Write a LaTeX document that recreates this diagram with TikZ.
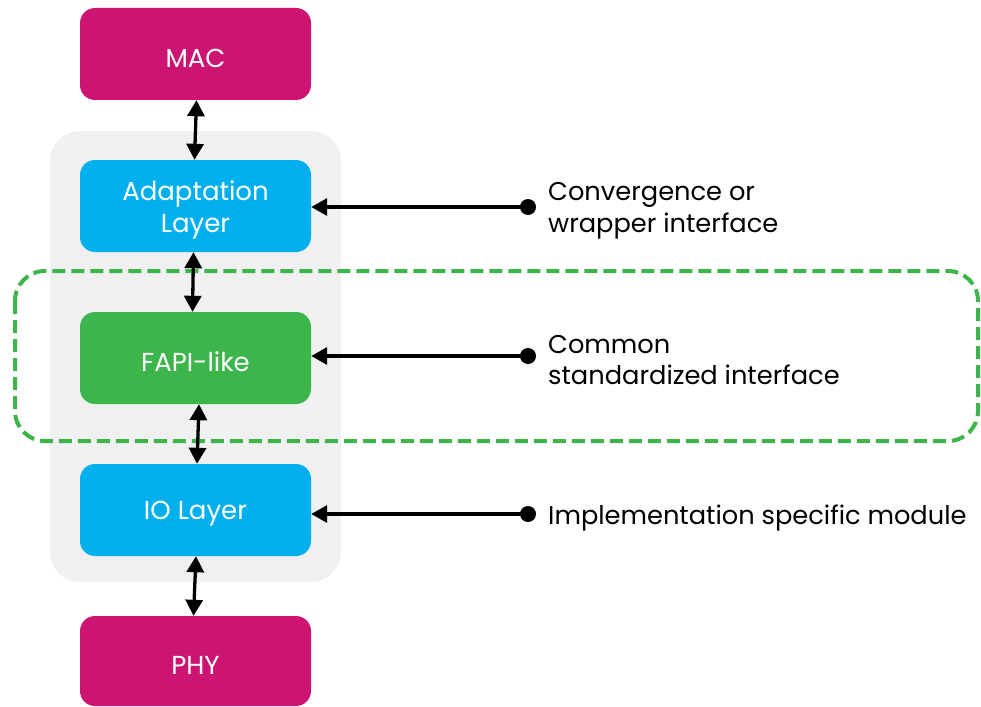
\documentclass[tikz,border=0pt]{standalone}
\usepackage{fontspec}
\setmainfont{Poppins}
\usetikzlibrary{arrows.meta,calc}
\definecolor{magentabox}{HTML}{CC1572}
\definecolor{bluebox}{HTML}{00B0EE}
\definecolor{greenbox}{HTML}{3CB54A}
\definecolor{graybg}{HTML}{F0F0F0}
\newcommand{\dn}[1]{\raisebox{-4pt}[\height][\depth]{#1}}
\tikzset{
  layerbox/.style={rounded corners=15pt, minimum width=231pt, minimum height=92pt, inner sep=0pt, text=white, font=\fontsize{26}{32}\selectfont, align=center},
  biarrow/.style={line width=3.3pt, {Triangle[length=16pt,width=17pt]}-{Triangle[length=16pt,width=17pt]}},
  ifarrow/.style={line width=3.3pt, -{Triangle[length=16pt,width=17pt]}},
  dotpt/.style={circle, fill=black, inner sep=0pt, minimum size=16pt},
  labeltext/.style={anchor=west, align=left, inner sep=0pt, font=\fontsize{25.7}{31.5}\selectfont},
}
\begin{document}
\begin{tikzpicture}[x=1pt,y=-1pt]
\useasboundingbox (0,0) rectangle (981,706);
\fill[graybg, rounded corners=30pt] (50,131) rectangle (341,582);
\node[layerbox, fill=magentabox] (mac) at (195.5,54) {\dn{MAC}};
\node[layerbox, fill=bluebox] (adapt) at (195.5,206) {\dn{Adaptation}\\\dn{Layer}};
\node[layerbox, fill=greenbox] (fapi) at (195.5,358) {\dn{FAPI-like}};
\node[layerbox, fill=bluebox] (io) at (195.5,510) {\dn{IO Layer}};
\node[layerbox, fill=magentabox, minimum height=90pt] (phy) at (195.5,661) {\dn{PHY}};
\draw[greenbox, line width=4pt, dash pattern=on 13pt off 6pt, rounded corners=30pt] (15,271) rectangle (978,441);
\draw[biarrow] ([xshift=1pt]mac.south) -- ([xshift=-1pt]adapt.north);
\draw[biarrow] ([xshift=-2pt]adapt.south) -- ([xshift=-3pt]fapi.north);
\draw[biarrow] ([xshift=3.5pt]fapi.south) -- ([xshift=1.5pt]io.north);
\draw[biarrow] ([xshift=0.5pt]io.south) -- ([xshift=-2pt]phy.north);
\node[dotpt] (d1) at (528,207) {};
\node[dotpt] (d2) at (528,356) {};
\node[dotpt] (d3) at (528,514) {};
\draw[ifarrow] (d1.center) -- (adapt.east |- d1);
\draw[ifarrow] (d2.center) -- (fapi.east |- d2);
\draw[ifarrow] (d3.center) -- (io.east |- d3);
\node[labeltext] (t1) at (548,211) {Convergence or\\wrapper interface};
\node[labeltext] (t2) at (548,360) {Common\\standardized interface};
\node[labeltext] (t3) at (548,518) {Implementation specific module};
\end{tikzpicture}
\end{document}
